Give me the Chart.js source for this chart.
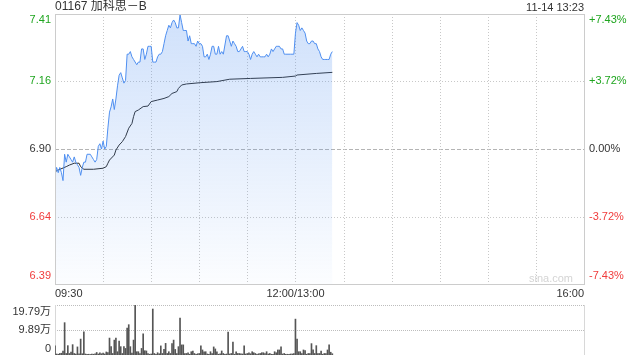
<!DOCTYPE html>
<html>
<head>
<meta charset="utf-8">
<script src="https://cdn.jsdelivr.net/npm/chart.js@4.4.0/dist/chart.umd.min.js"></script>
<style>
  html, body { margin: 0; padding: 0; background: #fff; }
  #wrap { position: relative; width: 640px; height: 360px; }
  #priceBox { position: absolute; left: 0; top: 0; width: 640px; height: 300px; }
  #volBox { position: absolute; left: 0; top: 300px; width: 640px; height: 60px; }
</style>
</head>
<body>
<div id="wrap">
  <div id="priceBox"><canvas id="priceChart"></canvas></div>
  <div id="volBox"><canvas id="volChart"></canvas></div>
</div>
<script>
// titre et horodatage
const title = '01167 加科思－B';
const stamp = '11-14 13:23';

// minutes depuis 09:30 (pause midi retirée), 330 min au total
const totalMinutes = 330;
const timeLabels = ['09:30', '12:00/13:00', '16:00'];
const timeLabelMinutes = [0, 150, 330];

// axe des prix : cours de clôture veille + écarts en %
const prevClose = 6.90;
const pctTicks = [7.43, 3.72, 0, -3.72, -7.43];
const priceTickLabels = ['7.41', '7.16', '6.90', '6.64', '6.39'];
const pctTickLabels = ['+7.43%', '+3.72%', '0.00%', '-3.72%', '-7.43%'];

// cours minute par minute
const priceMinutes = [
  0, 1, 2, 3, 4, 5, 6, 7, 8, 9, 10, 11, 12, 13, 14, 15, 16, 17, 18, 19,
  20, 22, 23, 24, 25, 26, 27, 28, 29, 30, 31, 32, 33, 34, 35, 36, 37, 38, 39, 40,
  41, 42, 43, 44, 45, 46, 47, 48, 49, 51, 52, 53, 54, 55, 56, 57, 58, 59, 60, 61,
  62, 63, 64, 65, 66, 67, 68, 69, 70, 71, 72, 73, 74, 75, 76, 77, 78, 79, 80, 81,
  82, 83, 84, 85, 86, 87, 88, 89, 90, 91, 92, 93, 94, 95, 96, 97, 98, 99, 100, 101,
  102, 103, 104, 105, 107, 108, 109, 110, 111, 112, 113, 114, 115, 117, 118, 119, 120, 121, 122, 123,
  124, 125, 126, 127, 128, 129, 130, 131, 132, 133, 134, 135, 136, 137, 138, 139, 140, 141, 142, 143,
  144, 147, 149, 150, 151, 152, 153, 154, 155, 156, 157, 158, 159, 160, 161, 162, 163, 164, 165, 166,
  167, 168, 169, 170, 171, 172, 173
];
const prices = [
  6.80, 6.83, 6.81, 6.83, 6.81, 6.78, 6.88, 6.85, 6.88, 6.87, 6.86, 6.85, 6.87, 6.85, 6.84, 6.83, 6.80, 6.83, 6.85, 6.85,
  6.88, 6.88, 6.87, 6.86, 6.85, 6.86, 6.91, 6.92, 6.90, 6.93, 6.90, 6.91, 6.98, 7.04, 7.06, 7.09, 7.05, 7.09, 7.14, 7.18,
  7.19, 7.17, 7.15, 7.16, 7.26, 7.26, 7.27, 7.25, 7.24, 7.22, 7.23, 7.23, 7.28, 7.28, 7.24, 7.26, 7.29, 7.29, 7.29, 7.23,
  7.23, 7.23, 7.25, 7.26, 7.26, 7.27, 7.30, 7.33, 7.35, 7.37, 7.36, 7.38, 7.39, 7.38, 7.36, 7.36, 7.41, 7.38, 7.35, 7.35,
  7.35, 7.31, 7.33, 7.30, 7.30, 7.30, 7.29, 7.31, 7.30, 7.30, 7.29, 7.25, 7.25, 7.26, 7.24, 7.26, 7.29, 7.29, 7.26, 7.26,
  7.29, 7.26, 7.27, 7.26, 7.33, 7.33, 7.31, 7.29, 7.31, 7.30, 7.29, 7.27, 7.27, 7.29, 7.27, 7.27, 7.27, 7.26, 7.24, 7.26,
  7.27, 7.26, 7.25, 7.26, 7.25, 7.25, 7.25, 7.25, 7.26, 7.25, 7.26, 7.28, 7.27, 7.28, 7.29, 7.29, 7.29, 7.28, 7.28, 7.26,
  7.26, 7.26, 7.26, 7.34, 7.38, 7.37, 7.35, 7.36, 7.35, 7.34, 7.31, 7.30, 7.30, 7.31, 7.31, 7.30, 7.30, 7.28, 7.27, 7.25,
  7.24, 7.24, 7.24, 7.24, 7.24, 7.26, 7.27
];

// prix moyen
const avgMinutes = [
  0, 2, 7, 9, 12, 15, 16, 18, 24, 30, 32, 33, 34, 37, 38, 40, 42, 44, 46, 48,
  49, 50, 52, 55, 58, 60, 64, 68, 71, 73, 76, 77, 79, 82, 91, 101, 109, 122, 142, 150,
  151, 163, 173
];
const avgPrices = [
  6.814, 6.820, 6.833, 6.839, 6.846, 6.846, 6.833, 6.823, 6.823, 6.827, 6.833, 6.846, 6.858, 6.877, 6.896, 6.915, 6.928, 6.947, 6.979, 6.997,
  7.023, 7.042, 7.048, 7.061, 7.063, 7.080, 7.086, 7.092, 7.099, 7.111, 7.118, 7.130, 7.143, 7.147, 7.152, 7.156, 7.165, 7.168, 7.172, 7.177,
  7.181, 7.187, 7.191
];

// volume par minute (en 万), minute 0 à 173
const volumes = [
  3.6, 0.4, 0.3, 0.6, 0.7, 1.6, 12.8, 0.6, 3.7, 0.6,
  1.2, 4.1, 0.6, 0.4, 3.2, 0.5, 6.3, 0.5, 9.2, 0.4,
  0.3, 0.3, 0.2, 0.4, 0.3, 0.5, 1.0, 0.4, 0.9, 0.5,
  0.8, 0.4, 1.2, 1.0, 6.7, 3.3, 0.6, 5.9, 6.7, 1.3,
  5.5, 3.3, 0.6, 3.3, 2.6, 10.7, 12.0, 3.3, 0.8, 5.9,
  19.79, 1.3, 1.3, 0.6, 2.6, 8.4, 1.7, 1.6, 0.6, 0.3,
  0.4, 18.2, 0.6, 0.3, 0.9, 0.5, 3.6, 0.6, 2.2, 4.6,
  0.6, 1.3, 0.6, 4.5, 5.9, 2.2, 0.6, 3.3, 14.6, 4.0,
  4.0, 0.6, 0.6, 0.9, 0.3, 1.3, 1.6, 0.6, 0.3, 0.5,
  0.6, 3.6, 2.0, 1.3, 1.3, 0.4, 0.3, 1.3, 0.6, 3.2,
  2.4, 1.3, 0.3, 0.5, 1.6, 0.6, 0.3, 0.4, 9.1, 0.4,
  0.6, 5.1, 0.3, 1.3, 0.6, 0.6, 0.5, 0.4, 3.6, 0.4,
  0.6, 0.9, 0.5, 1.3, 0.9, 0.6, 0.3, 0.5, 0.6, 0.9,
  0.9, 0.6, 1.3, 0.4, 0.6, 0.3, 0.3, 1.3, 0.9, 2.0,
  2.0, 3.2, 0.4, 0.6, 0.3, 0.3, 0.3, 0.4, 0.4, 0.6,
  14.2, 6.3, 1.3, 1.3, 0.6, 2.0, 1.7, 0.3, 0.6, 0.6,
  4.5, 2.0, 0.6, 3.7, 0.6, 0.6, 1.6, 0.3, 0.6, 0.6,
  2.0, 4.0, 1.1, 0.5
];
const volMax = 19.79;
const volTickValues = [19.79, 9.895, 0];
const volTickLabels = ['19.79万', '9.89万', '0'];

const FONT = "'Liberation Sans', Arial, 'Noto Sans CJK SC', sans-serif";
const GREEN = '#1fa51f';
const RED = '#f03c3c';
const DARK = '#333';

function colorFor(p) {
  if (p > 0) return GREEN;
  if (p < 0) return RED;
  return DARK;
}

function hLine(ctx, x1, x2, y, dash, color) {
  ctx.setLineDash(dash);
  ctx.strokeStyle = color;
  ctx.beginPath();
  ctx.moveTo(x1, y);
  ctx.lineTo(x2, y);
  ctx.stroke();
}

function vLine(ctx, x, y1, y2, dash, color) {
  ctx.setLineDash(dash);
  ctx.strokeStyle = color;
  ctx.beginPath();
  ctx.moveTo(x, y1);
  ctx.lineTo(x, y2);
  ctx.stroke();
}

const yMin = prevClose * (1 - pctTicks[0] / 100);
const yMax = prevClose * (1 + pctTicks[0] / 100);

// grille + textes du graphique des prix
const priceDecor = {
  id: 'priceDecor',
  beforeDatasetsDraw(chart) {
    const { ctx, chartArea: a, scales: { x, y } } = chart;
    ctx.save();
    ctx.lineWidth = 1;
    pctTicks.forEach((p, i) => {
      if (i === 0 || i === pctTicks.length - 1) return;
      const py = Math.round(y.getPixelForValue(prevClose * (1 + p / 100))) + 0.5;
      if (p === 0) hLine(ctx, a.left, a.right, py, [4, 2], '#b4b4b4');
      else hLine(ctx, a.left, a.right, py, [1, 2], '#c8c8c8');
    });
    for (let m = 30; m < totalMinutes; m += 30) {
      const px = Math.round(x.getPixelForValue(m)) + 0.5;
      vLine(ctx, px, a.top, a.bottom, [1, 2], '#c8c8c8');
    }
    ctx.restore();
  },
  afterDraw(chart) {
    const { ctx, chartArea: a, scales: { x, y } } = chart;
    ctx.save();
    ctx.lineWidth = 1;
    ctx.setLineDash([]);
    ctx.strokeStyle = '#cccccc';
    ctx.strokeRect(a.left + 0.5, a.top + 0.5, a.width, a.height);

    ctx.textBaseline = 'middle';
    ctx.font = '11px ' + FONT;
    pctTicks.forEach((p, i) => {
      const py = y.getPixelForValue(prevClose * (1 + p / 100));
      const ly = Math.min(Math.max(py, a.top + 6), a.bottom - 8);
      ctx.fillStyle = colorFor(p);
      ctx.textAlign = 'right';
      ctx.fillText(priceTickLabels[i], a.left - 4, ly);
      ctx.textAlign = 'left';
      ctx.fillText(pctTickLabels[i], a.right + 5, ly);
    });

    // heures sous le graphique
    ctx.fillStyle = DARK;
    timeLabelMinutes.forEach((m, i) => {
      const px = x.getPixelForValue(m);
      ctx.textAlign = i === 0 ? 'left' : (i === timeLabels.length - 1 ? 'right' : 'center');
      ctx.fillText(timeLabels[i], px, a.bottom + 10);
    });

    // filigrane
    ctx.fillStyle = '#d4d4d4';
    ctx.textAlign = 'right';
    ctx.fillText('sina.com', a.right - 11, a.bottom - 5);

    // titre et date
    ctx.fillStyle = DARK;
    ctx.font = '12px ' + FONT;
    ctx.textAlign = 'left';
    ctx.fillText(title, a.left, 7);
    ctx.font = '11px ' + FONT;
    ctx.textAlign = 'right';
    ctx.fillText(stamp, a.right, 8);
    ctx.restore();
  }
};

const priceCtx = document.getElementById('priceChart').getContext('2d');
new Chart(priceCtx, {
  type: 'line',
  data: {
    datasets: [{
      label: 'price',
      data: priceMinutes.map((m, i) => ({ x: m, y: prices[i] })),
      borderColor: '#4f8ff0',
      borderWidth: 1,
      pointRadius: 0,
      tension: 0,
      fill: 'start',
      backgroundColor: function(context) {
        const area = context.chart.chartArea;
        if (!area) return 'rgba(79,143,240,0.15)';
        const g = context.chart.ctx.createLinearGradient(0, area.top, 0, area.bottom);
        g.addColorStop(0, 'rgba(79,143,240,0.27)');
        g.addColorStop(1, 'rgba(79,143,240,0.02)');
        return g;
      }
    }, {
      label: 'avg',
      data: avgMinutes.map((m, i) => ({ x: m, y: avgPrices[i] })),
      borderColor: '#2b2b2b',
      borderWidth: 1,
      pointRadius: 0,
      tension: 0,
      fill: false
    }]
  },
  options: {
    responsive: true,
    maintainAspectRatio: false,
    animation: false,
    devicePixelRatio: 1,
    layout: { padding: { left: 55, right: 56, top: 14, bottom: 16 } },
    plugins: {
      legend: { display: false },
      tooltip: { enabled: false }
    },
    scales: {
      x: { type: 'linear', min: 0, max: totalMinutes, display: false },
      y: { type: 'linear', min: yMin, max: yMax, display: false }
    }
  },
  plugins: [priceDecor]
});

// grille + textes du volume
const volDecor = {
  id: 'volDecor',
  beforeDatasetsDraw(chart) {
    const { ctx, chartArea: a, scales: { y } } = chart;
    ctx.save();
    ctx.lineWidth = 1;
    const top = Math.round(a.top) + 0.5;
    const mid = Math.round(y.getPixelForValue(volTickValues[1])) + 0.5;
    hLine(ctx, a.left, a.right, top, [1, 1], '#bdbdbd');
    hLine(ctx, a.left, a.right, mid, [1, 1], '#bdbdbd');
    vLine(ctx, a.left + 0.5, a.top, a.bottom, [], '#d8d8d8');
    vLine(ctx, a.right + 0.5, a.top, a.bottom, [], '#d8d8d8');
    ctx.restore();
  },
  afterDraw(chart) {
    const { ctx, chartArea: a, scales: { y } } = chart;
    ctx.save();
    ctx.font = '11px ' + FONT;
    ctx.textBaseline = 'middle';
    ctx.textAlign = 'right';
    ctx.fillStyle = DARK;
    volTickValues.forEach((v, i) => {
      const py = y.getPixelForValue(v);
      const ly = Math.min(Math.max(py, a.top + 7), a.bottom - 6);
      ctx.fillText(volTickLabels[i], a.left - 4, ly);
    });
    ctx.restore();
  }
};

const volCtx = document.getElementById('volChart').getContext('2d');
new Chart(volCtx, {
  type: 'bar',
  data: {
    datasets: [{
      label: 'volume',
      data: volumes.map((v, i) => ({ x: i, y: v })),
      backgroundColor: '#555555',
      barThickness: 1,
      borderWidth: 0
    }]
  },
  options: {
    responsive: true,
    maintainAspectRatio: false,
    animation: false,
    devicePixelRatio: 1,
    layout: { padding: { left: 55, right: 56, top: 5, bottom: 5 } },
    plugins: {
      legend: { display: false },
      tooltip: { enabled: false }
    },
    scales: {
      x: { type: 'linear', min: 0, max: totalMinutes, display: false, offset: false },
      y: { type: 'linear', min: 0, max: volMax, display: false }
    }
  },
  plugins: [volDecor]
});
</script>
</body>
</html>
